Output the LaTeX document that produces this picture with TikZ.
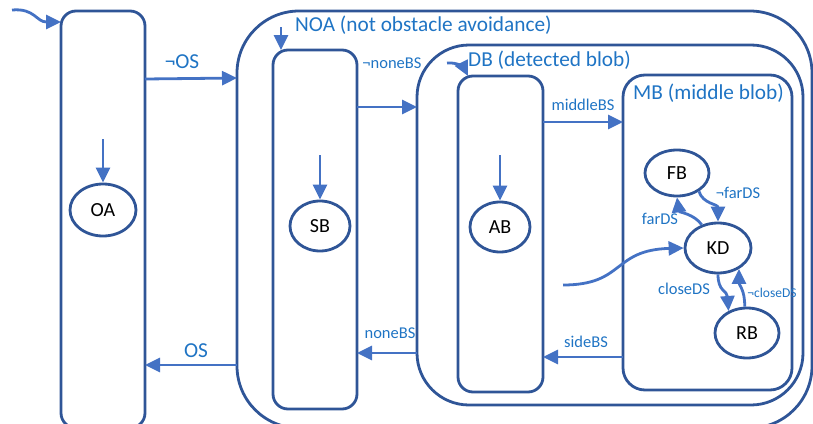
\documentclass[tikz,border=0pt]{standalone}
\usepackage{fontspec}
\setmainfont{Carlito}
\usetikzlibrary{arrows.meta,shapes.geometric,calc}
\definecolor{boxc}{HTML}{2F5597}
\definecolor{arrc}{HTML}{4472C4}
\definecolor{labc}{HTML}{1F74C4}
\begin{document}
\begin{tikzpicture}[x=1pt,y=-1pt,
  box/.style={draw=boxc,line width=2.8pt,rectangle,anchor=north west,inner sep=0pt,outer sep=0pt},
  st/.style={draw=boxc,line width=2.8pt,ellipse,inner sep=0pt,fill=white,
    font=\fontsize{20pt}{23pt}\selectfont},
  arr/.style={draw=arrc,line width=2.8pt,-{Triangle[length=15pt,width=14pt]}},
  lab/.style={text=labc,inner sep=0pt},
  big/.style={lab,font=\fontsize{21.3pt}{25pt}\selectfont},
  mid/.style={lab,font=\fontsize{16.5pt}{19pt}\selectfont},
  sml/.style={lab,font=\fontsize{13.5pt}{16pt}\selectfont}
]
\useasboundingbox (0,0) rectangle (813,423);
\clip (0,0) rectangle (813,423);

% boxes
\node[box,rounded corners=15pt,minimum width=84pt,minimum height=417pt] (oabox) at (61,11) {};
\node[box,rounded corners=62pt,minimum width=575pt,minimum height=417pt] (noa) at (237,11) {};
\node[box,rounded corners=15pt,minimum width=84pt,minimum height=359pt] (sbbox) at (273,50) {};
\node[box,rounded corners=52pt,minimum width=386pt,minimum height=360pt] (db) at (417,45) {};
\node[box,rounded corners=15pt,minimum width=85pt,minimum height=316pt] (abbox) at (458,76) {};
\node[box,rounded corners=22pt,minimum width=169pt,minimum height=315pt] (mb) at (623,75) {};

% box titles
\node[big,anchor=west] (noat) at (295,25) {NOA (not obstacle avoidance)};
\node[big,anchor=west] (dbt) at (468,60) {DB (detected blob)};
\node[big,anchor=west] (mbt) at (633,93) {MB (middle blob)};

% states
\node[st,minimum width=66pt,minimum height=52pt] (OA) at (103,210) {OA};
\node[st,minimum width=60pt,minimum height=50pt] (SB) at (320,226) {SB};
\node[st,minimum width=60pt,minimum height=50pt] (AB) at (500,227) {AB};
\node[st,minimum width=64pt,minimum height=46pt] (FB) at (677,173) {FB};
\node[st,minimum width=66pt,minimum height=50pt] (KD) at (718,248) {KD};
\node[st,minimum width=64pt,minimum height=50pt] (RB) at (747,333) {RB};

% free ends
\coordinate (start) at (12,10);
\coordinate (oain) at (103,139);
\coordinate (sbin) at (281,27);
\coordinate (sbsin) at (320,155);
\coordinate (abin) at (447,63);
\coordinate (absin) at (500,155);
\coordinate (kdin) at (563,285);

% initial arrows
\draw[arr] (start) .. controls (35,8) and (36,22) .. ([yshift=-11pt]oabox.north west);
\draw[arr] (oain) -- (OA.north);
\draw[arr] (sbin) -- ([xshift=8pt]sbbox.north west);
\draw[arr] (sbsin) -- (SB.north);
\draw[arr] (abin) .. controls (457,62) and (464,68) .. ([xshift=10pt]abbox.north west);
\draw[arr] (absin) -- (AB.north);
\draw[arr] (kdin) .. controls (625,285) and (612,250) .. (KD.west);

% transitions between boxes
\draw[arr] ([yshift=-68pt]oabox.north east) -- ([yshift=-67pt]noa.north west);
\draw[arr] ([yshift=-354pt]noa.north west) -- ([yshift=-354pt]oabox.north east);
\draw[arr] ([yshift=-57pt]sbbox.north east) -- ([yshift=-62pt]db.north west);
\draw[arr] ([yshift=-308pt]db.north west) -- ([yshift=-303pt]sbbox.north east);
\draw[arr] ([yshift=-46pt]abbox.north east) -- ([yshift=-47pt]mb.north west);
\draw[arr] ([yshift=-282pt]mb.north west) -- ([yshift=-281pt]abbox.north east);

% transitions inside MB
\draw[arr] (FB.-40) .. controls (703,204) and (718,204) .. (KD.north);
\draw[arr] (KD.125) .. controls (694,214) and (679,212) .. (FB.south);
\draw[arr] (KD.south) .. controls (718,292) and (727,290) .. (RB.130);
\draw[arr] (RB.95) .. controls (745,290) and (739,285) .. (KD.-45);

% labels
\node[big] (lnos) at (182,62) {¬OS};
\node[big] (los) at (196,351) {OS};
\node[mid] (lnnb) at (392,63) {¬noneBS};
\node[mid] (lnb) at (390,333) {noneBS};
\node[mid] (lmb) at (583,105) {middleBS};
\node[mid] (lsb) at (586,342) {sideBS};
\node[mid] (lnfd) at (738,193) {¬farDS};
\node[mid] (lfd) at (660,219) {farDS};
\node[mid] (lcd) at (684,289) {closeDS};
\node[sml] (lncd) at (772,293) {¬closeDS};
\end{tikzpicture}
\end{document}
